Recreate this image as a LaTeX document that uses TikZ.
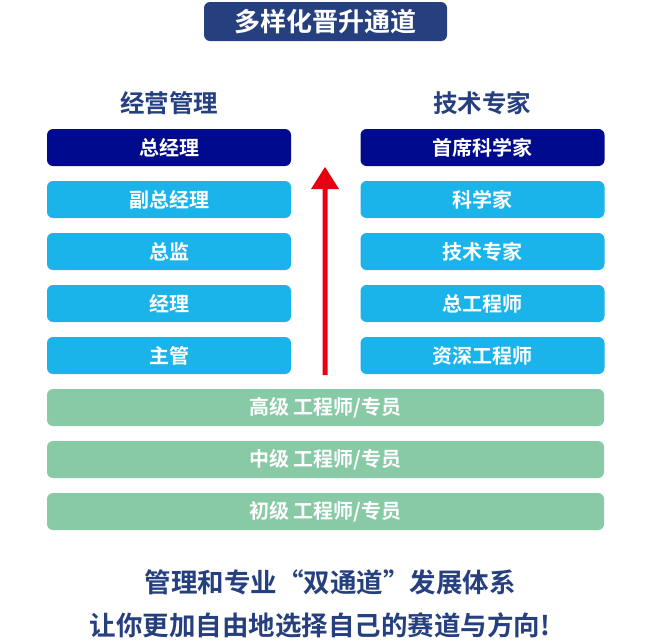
\documentclass[tikz,border=0pt]{standalone}
\usepackage{fontspec}
\newfontfamily\cjk{Noto Sans CJK SC Bold}
\definecolor{navy}{RGB}{38,63,127}
\definecolor{dkb}{RGB}{0,10,140}
\definecolor{ltb}{RGB}{26,180,234}
\definecolor{grn}{RGB}{136,201,166}
\definecolor{arr}{RGB}{230,0,18}
\begin{document}
\begin{tikzpicture}[x=1pt,y=-1pt,
  box/.style={rounded corners=6pt,minimum height=37pt,text=white,font=\cjk\fontsize{20}{24}\selectfont,inner sep=0pt},
  dbox/.style={box,fill=dkb,minimum width=244pt},
  lbox/.style={box,fill=ltb,minimum width=244pt},
  gbox/.style={box,fill=grn,minimum width=557pt,text=white},
  hd/.style={text=navy,font=\cjk\fontsize{24.5}{28}\selectfont}]
\useasboundingbox (0,0) rectangle (650,641);
\node[box,fill=navy,minimum width=243pt,minimum height=39pt,font=\cjk\fontsize{26}{30}\selectfont] (t) at (325.5,21.5) {多样化晋升通道};
\node[hd] (h1) at (169,103) {经营管理};
\node[hd] (h2) at (482,103) {技术专家};
\node[dbox] (l1) at (169,147.5) {总经理};
\node[lbox] (l2) at (169,199.5) {副总经理};
\node[lbox] (l3) at (169,251.5) {总监};
\node[lbox] (l4) at (169,303.5) {经理};
\node[lbox] (l5) at (169,355.5) {主管};
\node[dbox] (r1) at (482.5,147.5) {首席科学家};
\node[lbox] (r2) at (482.5,199.5) {科学家};
\node[lbox] (r3) at (482.5,251.5) {技术专家};
\node[lbox] (r4) at (482.5,303.5) {总工程师};
\node[lbox] (r5) at (482.5,355.5) {资深工程师};
\node[gbox] (g1) at (325.5,407.5) {高级 工程师/专员};
\node[gbox] (g2) at (325.5,459.5) {中级 工程师/专员};
\node[gbox] (g3) at (325.5,511.5) {初级 工程师/专员};
\fill[arr] (322.5,375) -- (322.5,189) -- (311,189) -- (325,167) -- (339,189) -- (327.5,189) -- (327.5,375) -- cycle;
\node[hd,font=\cjk\fontsize{26.5}{30}\selectfont] (b1) at (330,582) {管理和专业“双通道”发展体系};
\node[hd,font=\cjk\fontsize{26.5}{30}\selectfont] (b2) at (320,625) {让你更加自由地选择自己的赛道与方向!};
\end{tikzpicture}
\end{document}
